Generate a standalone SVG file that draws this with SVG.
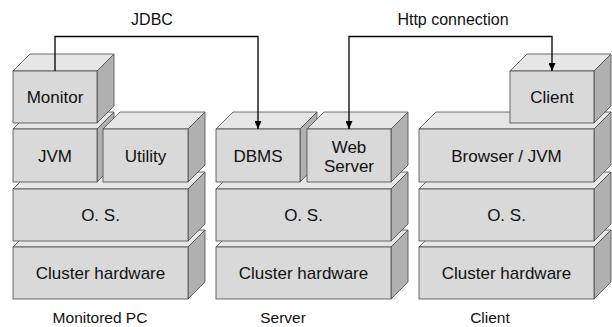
<svg xmlns="http://www.w3.org/2000/svg" width="612" height="327" viewBox="0 0 612 327">
<style>
.fr{fill:#d9d9d9;stroke:#4a4a4a;stroke-width:0.8}
.tp{fill:#e6e6e6;stroke:#4a4a4a;stroke-width:0.8;stroke-linejoin:round}
.sd{fill:#b0b0b0;stroke:#4a4a4a;stroke-width:0.8;stroke-linejoin:round}
text{font-family:"Liberation Sans",Arial,sans-serif;font-size:17px;fill:#111;text-anchor:middle}
.lb{font-size:16px}
.cap{font-size:15.5px}
.cn{fill:none;stroke:#000;stroke-width:1.3}
</style>
<defs>
<marker id="ah" markerWidth="8" markerHeight="7" refX="8" refY="3.5" orient="auto-start-reverse" markerUnits="userSpaceOnUse">
<path d="M0,0 L8,3.5 L0,7 z" fill="#000"/>
</marker>
</defs>

<!-- Monitored PC column -->
<g id="pc-hw">
<polygon class="tp" points="13,247 30,230 205,230 188,247"/>
<polygon class="sd" points="188,247 205,230 205,282 188,299"/>
<rect class="fr" x="13" y="247" width="175" height="52"/>
<text x="100.5" y="279">Cluster hardware</text>
</g>
<g id="pc-os">
<polygon class="tp" points="13,189 30,172 205,172 188,189"/>
<polygon class="sd" points="188,189 205,172 205,224 188,241"/>
<rect class="fr" x="13" y="189" width="175" height="52"/>
<text x="100.5" y="221">O. S.</text>
</g>
<g id="pc-jvm">
<polygon class="tp" points="13,129 30,112 114,112 97,129"/>
<polygon class="sd" points="97,129 114,112 114,165 97,182"/>
<rect class="fr" x="13" y="129" width="84" height="53"/>
<text x="55" y="161.5">JVM</text>
</g>
<g id="pc-utility">
<polygon class="tp" points="103,129 120,112 205,112 188,129"/>
<polygon class="sd" points="188,129 205,112 205,165 188,182"/>
<rect class="fr" x="103" y="129" width="85" height="53"/>
<text x="145.5" y="161.5">Utility</text>
</g>
<g id="pc-monitor">
<polygon class="tp" points="13,71 30,54 114,54 97,71"/>
<polygon class="sd" points="97,71 114,54 114,106 97,123"/>
<rect class="fr" x="13" y="71" width="84" height="52"/>
<text x="55" y="103">Monitor</text>
</g>

<!-- Server column -->
<g id="srv-hw">
<polygon class="tp" points="216,247 233,230 408,230 391,247"/>
<polygon class="sd" points="391,247 408,230 408,282 391,299"/>
<rect class="fr" x="216" y="247" width="175" height="52"/>
<text x="303.5" y="279">Cluster hardware</text>
</g>
<g id="srv-os">
<polygon class="tp" points="216,189 233,172 408,172 391,189"/>
<polygon class="sd" points="391,189 408,172 408,224 391,241"/>
<rect class="fr" x="216" y="189" width="175" height="52"/>
<text x="303.5" y="221">O. S.</text>
</g>
<g id="srv-dbms">
<polygon class="tp" points="216,129 233,112 317,112 300,129"/>
<polygon class="sd" points="300,129 317,112 317,165 300,182"/>
<rect class="fr" x="216" y="129" width="84" height="53"/>
<text x="258" y="161.5">DBMS</text>
</g>
<g id="srv-web">
<polygon class="tp" points="307,129 324,112 408,112 391,129"/>
<polygon class="sd" points="391,129 408,112 408,165 391,182"/>
<rect class="fr" x="307" y="129" width="84" height="53"/>
<text x="349" y="153">Web</text>
<text x="349" y="172">Server</text>
</g>

<!-- Client column -->
<g id="cl-hw">
<polygon class="tp" points="419,247 436,230 611,230 594,247"/>
<polygon class="sd" points="594,247 611,230 611,282 594,299"/>
<rect class="fr" x="419" y="247" width="175" height="52"/>
<text x="506.5" y="279">Cluster hardware</text>
</g>
<g id="cl-os">
<polygon class="tp" points="419,189 436,172 611,172 594,189"/>
<polygon class="sd" points="594,189 611,172 611,224 594,241"/>
<rect class="fr" x="419" y="189" width="175" height="52"/>
<text x="506.5" y="221">O. S.</text>
</g>
<g id="cl-browser">
<polygon class="tp" points="419,129 436,112 611,112 594,129"/>
<polygon class="sd" points="594,129 611,112 611,165 594,182"/>
<rect class="fr" x="419" y="129" width="175" height="53"/>
<text x="506.5" y="161.5">Browser / JVM</text>
</g>
<g id="cl-client">
<polygon class="tp" points="510,71 527,54 611,54 594,71"/>
<polygon class="sd" points="594,71 611,54 611,106 594,123"/>
<rect class="fr" x="510" y="71" width="84" height="52"/>
<text x="552" y="103">Client</text>
</g>

<!-- connectors -->
<g id="connectors">
<path class="cn" d="M55,71 V36.5 H258 V129" marker-end="url(#ah)"/>
<path class="cn" d="M349,129 V36.5 H552 V71" marker-start="url(#ah)" marker-end="url(#ah)"/>
<text class="lb" x="152" y="25">JDBC</text>
<text class="lb" x="453" y="25">Http connection</text>
</g>

<!-- column labels -->
<g id="labels">
<text class="cap" x="100" y="323">Monitored PC</text>
<text class="cap" x="283" y="323">Server</text>
<text class="cap" x="490" y="323">Client</text>
</g>
</svg>
